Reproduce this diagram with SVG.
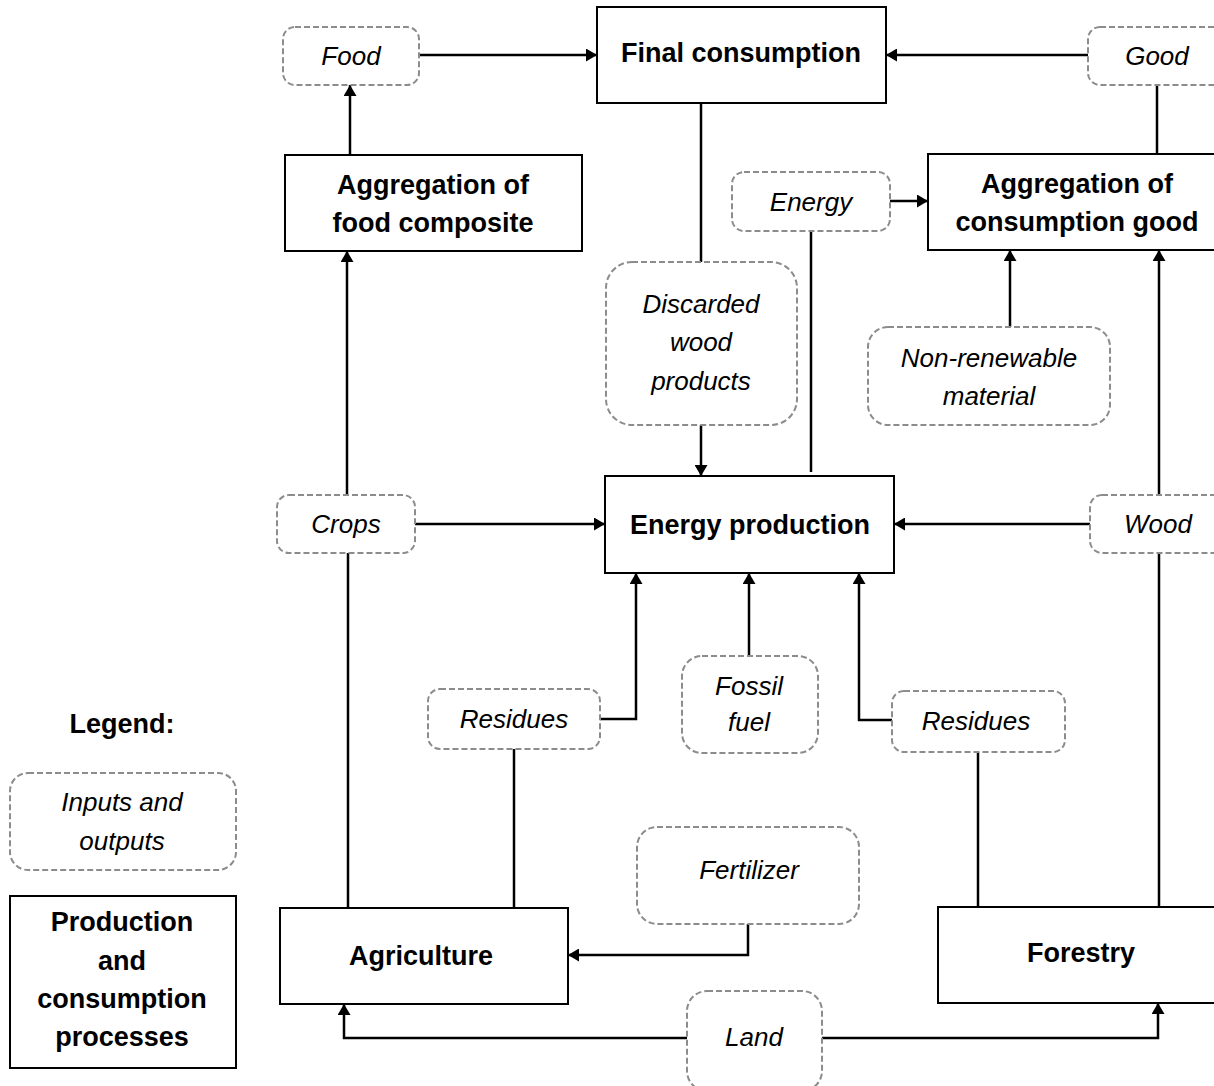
<svg xmlns="http://www.w3.org/2000/svg" width="1214" height="1086" viewBox="0 0 1214 1086">
<defs>
<marker id="ah" markerWidth="11" markerHeight="13" refX="11" refY="6.5" orient="auto" markerUnits="userSpaceOnUse">
<path d="M0,0 L11,6.5 L0,13 Z" fill="#000"/>
</marker>
<style>
.io{fill:#fff;stroke:#8c8c8c;stroke-width:2;stroke-dasharray:6 3}
.pr{fill:#fff;stroke:#000;stroke-width:2}
.it{font-family:"Liberation Sans",Arial,sans-serif;font-size:26px;font-style:italic;text-anchor:middle;fill:#000}
.bd{font-family:"Liberation Sans",Arial,sans-serif;font-size:27px;font-weight:bold;text-anchor:middle;fill:#000}
.cn{fill:none;stroke:#000;stroke-width:2.5}
.ar{fill:none;stroke:#000;stroke-width:2.5;marker-end:url(#ah)}
</style>
</defs>
<rect width="1214" height="1086" fill="#fff"/>
<g id="connectors">
<path class="ar" d="M419,55 H597"/>
<path class="ar" d="M1088,55 H886"/>
<path class="cn" d="M1157,85 V154"/>
<path class="ar" d="M890,201 H928"/>
<path class="cn" d="M811,231 V472"/>
<path class="cn" d="M701,103 V262"/>
<path class="ar" d="M701,425 V476"/>
<path class="ar" d="M1010,327 V250"/>
<path class="ar" d="M1159,495 V250"/>
<path class="ar" d="M1090,524 H894"/>
<path class="ar" d="M415,524 H605"/>
<path class="ar" d="M347,495 V251"/>
<path class="ar" d="M350,155 V85"/>
<path class="cn" d="M348,553 V908"/>
<path class="ar" d="M600,719 H636 V573"/>
<path class="cn" d="M514,749 V908"/>
<path class="ar" d="M749,656 V573"/>
<path class="ar" d="M892,720 H859 V573"/>
<path class="cn" d="M978,752 V907"/>
<path class="cn" d="M1159,553 V907"/>
<path class="ar" d="M748,924 V955 H568"/>
<path class="ar" d="M687,1038 H344 V1004"/>
<path class="ar" d="M822,1038 H1158 V1003"/>
</g>
<g id="food"><rect class="io" x="283" y="27" width="136" height="58" rx="12"/><text class="it" x="351" y="65">Food</text></g>
<g id="final-consumption"><rect class="pr" x="597" y="7" width="289" height="96"/><text class="bd" x="741" y="62">Final consumption</text></g>
<g id="good"><rect class="io" x="1088" y="27" width="140" height="58" rx="12"/><text class="it" x="1157" y="65">Good</text></g>
<g id="agg-food"><rect class="pr" x="285" y="155" width="297" height="96"/><text class="bd" x="433" y="194">Aggregation of</text><text class="bd" x="433" y="232">food composite</text></g>
<g id="energy"><rect class="io" x="732" y="172" width="158" height="59" rx="12"/><text class="it" x="811" y="211">Energy</text></g>
<g id="agg-good"><rect class="pr" x="928" y="154" width="300" height="96"/><text class="bd" x="1077" y="193">Aggregation of</text><text class="bd" x="1077" y="231">consumption good</text></g>
<g id="discarded"><rect class="io" x="606" y="262" width="191" height="163" rx="26"/><text class="it" x="701" y="313">Discarded</text><text class="it" x="701" y="351">wood</text><text class="it" x="701" y="390">products</text></g>
<g id="non-renewable"><rect class="io" x="868" y="327" width="242" height="98" rx="20"/><text class="it" x="989" y="367">Non-renewable</text><text class="it" x="989" y="405">material</text></g>
<g id="crops"><rect class="io" x="277" y="495" width="138" height="58" rx="12"/><text class="it" x="346" y="533">Crops</text></g>
<g id="energy-production"><rect class="pr" x="605" y="476" width="289" height="97"/><text class="bd" x="750" y="534">Energy production</text></g>
<g id="wood"><rect class="io" x="1090" y="495" width="140" height="58" rx="12"/><text class="it" x="1158" y="533">Wood</text></g>
<g id="residues-agri"><rect class="io" x="428" y="689" width="172" height="60" rx="12"/><text class="it" x="514" y="728">Residues</text></g>
<g id="fossil-fuel"><rect class="io" x="682" y="656" width="136" height="97" rx="20"/><text class="it" x="749" y="695">Fossil</text><text class="it" x="749" y="731">fuel</text></g>
<g id="residues-forest"><rect class="io" x="892" y="691" width="173" height="61" rx="12"/><text class="it" x="976" y="730">Residues</text></g>
<g id="fertilizer"><rect class="io" x="637" y="827" width="222" height="97" rx="20"/><text class="it" x="749" y="879">Fertilizer</text></g>
<g id="agriculture"><rect class="pr" x="280" y="908" width="288" height="96"/><text class="bd" x="421" y="965">Agriculture</text></g>
<g id="forestry"><rect class="pr" x="938" y="907" width="290" height="96"/><text class="bd" x="1081" y="962">Forestry</text></g>
<g id="land"><rect class="io" x="687" y="991" width="135" height="100" rx="20"/><text class="it" x="754" y="1046">Land</text></g>
<g id="legend">
<text class="bd" x="122" y="733">Legend:</text>
<rect class="io" x="10" y="773" width="226" height="97" rx="18"/>
<text class="it" x="122" y="811">Inputs and</text>
<text class="it" x="122" y="850">outputs</text>
<rect class="pr" x="10" y="896" width="226" height="172"/>
<text class="bd" x="122" y="931">Production</text>
<text class="bd" x="122" y="970">and</text>
<text class="bd" x="122" y="1008">consumption</text>
<text class="bd" x="122" y="1046">processes</text>
</g>
</svg>
